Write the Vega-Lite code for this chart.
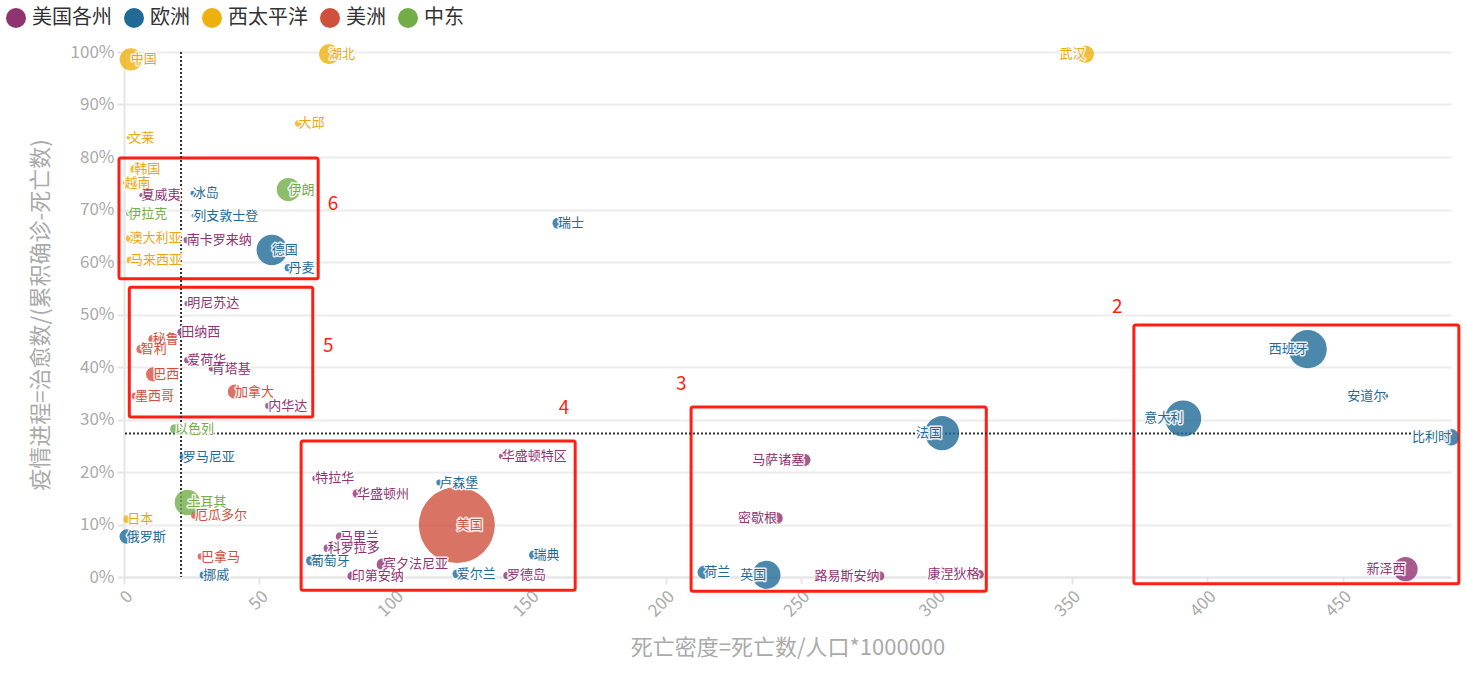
{
  "$schema": "https://vega.github.io/schema/vega-lite/v6.json",
  "width": 1327,
  "height": 525,
  "autosize": {"type": "none"},
  "padding": {"left": 124, "top": 52, "right": 15, "bottom": 102},
  "background": "white",
  "config": {
    "font": "Noto Sans CJK SC",
    "view": {"stroke": null},
    "axis": {
      "labelFont": "Noto Sans CJK SC",
      "titleFont": "Noto Sans CJK SC",
      "labelColor": "#aaaaaa",
      "labelFontSize": 17,
      "titleColor": "#aaaaaa",
      "titleFontSize": 22,
      "titleFontWeight": "normal",
      "domainColor": "#e6e6e6",
      "domainWidth": 2,
      "tickColor": "#e6e6e6",
      "tickWidth": 2,
      "tickSize": 7,
      "gridColor": "#ececec",
      "gridWidth": 2
    }
  },
  "datasets": {
    "pts": [
      {"name": "夏威夷", "region": "美国各州", "deathDensity": 6.5, "progress": 0.727, "confirmed": 1500},
      {"name": "南卡罗来纳", "region": "美国各州", "deathDensity": 23.2, "progress": 0.642, "confirmed": 5000},
      {"name": "明尼苏达", "region": "美国各州", "deathDensity": 23.4, "progress": 0.521, "confirmed": 3500},
      {"name": "田纳西", "region": "美国各州", "deathDensity": 21.1, "progress": 0.466, "confirmed": 8000},
      {"name": "爱荷华", "region": "美国各州", "deathDensity": 23.4, "progress": 0.413, "confirmed": 5000},
      {"name": "肯塔基", "region": "美国各州", "deathDensity": 32.4, "progress": 0.397, "confirmed": 4000},
      {"name": "内华达", "region": "美国各州", "deathDensity": 53.3, "progress": 0.326, "confirmed": 5000},
      {"name": "特拉华", "region": "美国各州", "deathDensity": 70.6, "progress": 0.188, "confirmed": 3500},
      {"name": "华盛顿州", "region": "美国各州", "deathDensity": 86.0, "progress": 0.159, "confirmed": 11000},
      {"name": "马里兰", "region": "美国各州", "deathDensity": 79.8, "progress": 0.077, "confirmed": 11000},
      {"name": "科罗拉多", "region": "美国各州", "deathDensity": 75.2, "progress": 0.055, "confirmed": 9000},
      {"name": "宾夕法尼亚", "region": "美国各州", "deathDensity": 95.6, "progress": 0.024, "confirmed": 25000},
      {"name": "印第安纳", "region": "美国各州", "deathDensity": 84.1, "progress": 0.002, "confirmed": 11000},
      {"name": "罗德岛", "region": "美国各州", "deathDensity": 141.4, "progress": 0.003, "confirmed": 7000},
      {"name": "华盛顿特区", "region": "美国各州", "deathDensity": 139.5, "progress": 0.23, "confirmed": 3500},
      {"name": "马萨诸塞", "region": "美国各州", "deathDensity": 251.2, "progress": 0.223, "confirmed": 25000},
      {"name": "密歇根", "region": "美国各州", "deathDensity": 241.1, "progress": 0.112, "confirmed": 22000},
      {"name": "路易斯安纳", "region": "美国各州", "deathDensity": 279.0, "progress": 0.002, "confirmed": 14000},
      {"name": "康涅狄格", "region": "美国各州", "deathDensity": 315.9, "progress": 0.005, "confirmed": 11000},
      {"name": "新泽西", "region": "美国各州", "deathDensity": 473.2, "progress": 0.015, "confirmed": 100000},
      {"name": "冰岛", "region": "欧洲", "deathDensity": 25.4, "progress": 0.731, "confirmed": 1800},
      {"name": "列支敦士登", "region": "欧洲", "deathDensity": 25.6, "progress": 0.688, "confirmed": 300},
      {"name": "德国", "region": "欧洲", "deathDensity": 54.6, "progress": 0.623, "confirmed": 160000},
      {"name": "丹麦", "region": "欧洲", "deathDensity": 60.7, "progress": 0.589, "confirmed": 8000},
      {"name": "罗马尼亚", "region": "欧洲", "deathDensity": 21.7, "progress": 0.229, "confirmed": 5000},
      {"name": "俄罗斯", "region": "欧洲", "deathDensity": 1.0, "progress": 0.077, "confirmed": 34000},
      {"name": "挪威", "region": "欧洲", "deathDensity": 29.3, "progress": 0.004, "confirmed": 7500},
      {"name": "葡萄牙", "region": "欧洲", "deathDensity": 69.0, "progress": 0.031, "confirmed": 14000},
      {"name": "卢森堡", "region": "欧洲", "deathDensity": 116.4, "progress": 0.18, "confirmed": 3700},
      {"name": "爱尔兰", "region": "欧洲", "deathDensity": 122.9, "progress": 0.006, "confirmed": 11000},
      {"name": "瑞典", "region": "欧洲", "deathDensity": 151.2, "progress": 0.042, "confirmed": 12000},
      {"name": "瑞士", "region": "欧洲", "deathDensity": 160.3, "progress": 0.674, "confirmed": 20000},
      {"name": "法国", "region": "欧洲", "deathDensity": 302.1, "progress": 0.274, "confirmed": 200000},
      {"name": "荷兰", "region": "欧洲", "deathDensity": 214.3, "progress": 0.009, "confirmed": 30000},
      {"name": "英国", "region": "欧洲", "deathDensity": 237.2, "progress": 0.004, "confirmed": 136000},
      {"name": "西班牙", "region": "欧洲", "deathDensity": 437.1, "progress": 0.434, "confirmed": 250000},
      {"name": "安道尔", "region": "欧洲", "deathDensity": 466.1, "progress": 0.345, "confirmed": 740},
      {"name": "意大利", "region": "欧洲", "deathDensity": 391.1, "progress": 0.302, "confirmed": 224000},
      {"name": "比利时", "region": "欧洲", "deathDensity": 490.0, "progress": 0.266, "confirmed": 45000},
      {"name": "中国", "region": "西太平洋", "deathDensity": 2.5, "progress": 0.986, "confirmed": 84000},
      {"name": "湖北", "region": "西太平洋", "deathDensity": 75.7, "progress": 0.996, "confirmed": 68000},
      {"name": "武汉", "region": "西太平洋", "deathDensity": 355.0, "progress": 0.996, "confirmed": 50000},
      {"name": "大邱", "region": "西太平洋", "deathDensity": 64.4, "progress": 0.864, "confirmed": 6000},
      {"name": "文莱", "region": "西太平洋", "deathDensity": 1.6, "progress": 0.837, "confirmed": 300},
      {"name": "韩国", "region": "西太平洋", "deathDensity": 3.8, "progress": 0.777, "confirmed": 9000},
      {"name": "越南", "region": "西太平洋", "deathDensity": 0.2, "progress": 0.751, "confirmed": 300},
      {"name": "澳大利亚", "region": "西太平洋", "deathDensity": 2.0, "progress": 0.645, "confirmed": 6700},
      {"name": "马来西亚", "region": "西太平洋", "deathDensity": 2.2, "progress": 0.604, "confirmed": 5800},
      {"name": "日本", "region": "西太平洋", "deathDensity": 1.2, "progress": 0.11, "confirmed": 8500},
      {"name": "秘鲁", "region": "美洲", "deathDensity": 10.6, "progress": 0.453, "confirmed": 11000},
      {"name": "智利", "region": "美洲", "deathDensity": 6.2, "progress": 0.434, "confirmed": 11000},
      {"name": "巴西", "region": "美洲", "deathDensity": 10.8, "progress": 0.386, "confirmed": 34000},
      {"name": "墨西哥", "region": "美洲", "deathDensity": 4.1, "progress": 0.345, "confirmed": 6000},
      {"name": "加拿大", "region": "美洲", "deathDensity": 41.0, "progress": 0.353, "confirmed": 34000},
      {"name": "厄瓜多尔", "region": "美洲", "deathDensity": 26.2, "progress": 0.118, "confirmed": 8500},
      {"name": "巴拿马", "region": "美洲", "deathDensity": 28.4, "progress": 0.039, "confirmed": 5500},
      {"name": "美国", "region": "美洲", "deathDensity": 122.9, "progress": 0.099, "confirmed": 1000000},
      {"name": "伊朗", "region": "中东", "deathDensity": 60.7, "progress": 0.738, "confirmed": 92000},
      {"name": "伊拉克", "region": "中东", "deathDensity": 1.6, "progress": 0.692, "confirmed": 1800},
      {"name": "以色列", "region": "中东", "deathDensity": 18.8, "progress": 0.282, "confirmed": 14000},
      {"name": "土耳其", "region": "中东", "deathDensity": 23.4, "progress": 0.142, "confirmed": 110000}
    ],
    "boxes": [
      {"x1": -1.85, "x2": 71.7, "y1": 0.798, "y2": 0.568},
      {"x1": 1.96, "x2": 69.7, "y1": 0.552, "y2": 0.305},
      {"x1": 65.4, "x2": 166.6, "y1": 0.259, "y2": -0.025},
      {"x1": 209.4, "x2": 318.4, "y1": 0.324, "y2": -0.027},
      {"x1": 372.9, "x2": 492.9, "y1": 0.48, "y2": -0.013}
    ],
    "nums": [
      {"label": "6", "x": 77.2, "y": 0.71},
      {"label": "5", "x": 75.4, "y": 0.44},
      {"label": "4", "x": 162.5, "y": 0.322},
      {"label": "3", "x": 205.8, "y": 0.368},
      {"label": "2", "x": 366.8, "y": 0.514}
    ],
    "vref": [{"deathDensity": 21.06}],
    "href": [{"progress": 0.2733}]
  },
  "layer": [
    {
      "data": {"name": "boxes"},
      "mark": {"type": "rect", "fillOpacity": 0, "stroke": "#ff1f12", "strokeWidth": 3, "cornerRadius": 2},
      "encoding": {
        "x": {"field": "x1", "type": "quantitative", "scale": {"domain": [0, 490], "nice": false}, "title": "死亡密度=死亡数/人口*1000000"},
        "x2": {"field": "x2"},
        "y": {"field": "y1", "type": "quantitative", "scale": {"domain": [0, 1], "nice": false}, "title": "疫情进程=治愈数/(累积确诊-死亡数)"},
        "y2": {"field": "y2"}
      }
    },
    {
      "data": {"name": "vref"},
      "mark": {"type": "rule", "color": "#333333", "strokeWidth": 2, "strokeDash": [2, 2]},
      "encoding": {
        "x": {"field": "deathDensity", "type": "quantitative", "scale": {"domain": [0, 490], "nice": false}, "title": "死亡密度=死亡数/人口*1000000"}
      }
    },
    {
      "data": {"name": "href"},
      "mark": {"type": "rule", "color": "#333333", "strokeWidth": 2, "strokeDash": [2, 2]},
      "encoding": {
        "y": {"field": "progress", "type": "quantitative", "scale": {"domain": [0, 1], "nice": false}, "title": "疫情进程=治愈数/(累积确诊-死亡数)"}
      }
    },
    {
      "data": {"name": "pts"},
      "mark": {"type": "point", "filled": true, "opacity": 0.8},
      "encoding": {
        "x": {
          "field": "deathDensity", "type": "quantitative",
          "scale": {"domain": [0, 490], "nice": false},
          "title": "死亡密度=死亡数/人口*1000000",
          "axis": {"values": [0, 50, 100, 150, 200, 250, 300, 350, 400, 450], "grid": false, "labelAngle": -45, "labelPadding": 4, "titlePadding": 18}
        },
        "y": {
          "field": "progress", "type": "quantitative",
          "scale": {"domain": [0, 1], "nice": false},
          "title": "疫情进程=治愈数/(累积确诊-死亡数)",
          "axis": {"values": [0, 0.1, 0.2, 0.3, 0.4, 0.5, 0.6, 0.7, 0.8, 0.9, 1], "format": ".0%", "grid": true, "labelPadding": 3, "titlePadding": 18}
        },
        "color": {
          "field": "region", "type": "nominal",
          "scale": {"domain": ["美国各州", "欧洲", "西太平洋", "美洲", "中东"], "range": ["#8f3371", "#1f6a96", "#eeb00e", "#cf503d", "#72ad47"]},
          "legend": {
            "title": null, "orient": "none", "legendX": -118, "legendY": -44, "direction": "horizontal",
            "symbolType": "circle", "symbolSize": 400, "symbolOpacity": 1, "symbolStrokeWidth": 0,
            "labelFontSize": 20, "labelColor": "#333333", "labelFont": "Noto Sans CJK SC",
            "labelOffset": 6, "columnPadding": 12
          }
        },
        "size": {
          "field": "confirmed", "type": "quantitative",
          "scale": {"domain": [0, 1000000], "range": [12, 5776]},
          "legend": null
        }
      }
    },
    {
      "data": {"name": "pts"},
      "transform": [{"filter": "datum.deathDensity < 225"}],
      "mark": {"type": "text", "align": "left", "baseline": "middle", "fontSize": 13, "stroke": "white", "strokeWidth": 3, "strokeJoin": "round", "fill": "white", "strokeOpacity": 0.85},
      "encoding": {
        "x": {"field": "deathDensity", "type": "quantitative", "scale": {"domain": [0, 490], "nice": false}, "title": "死亡密度=死亡数/人口*1000000"},
        "y": {"field": "progress", "type": "quantitative", "scale": {"domain": [0, 1], "nice": false}, "title": "疫情进程=治愈数/(累积确诊-死亡数)"},
        "text": {"field": "name"}
      }
    },
    {
      "data": {"name": "pts"},
      "transform": [{"filter": "datum.deathDensity >= 225"}],
      "mark": {"type": "text", "align": "right", "baseline": "middle", "fontSize": 13, "stroke": "white", "strokeWidth": 3, "strokeJoin": "round", "fill": "white", "strokeOpacity": 0.85},
      "encoding": {
        "x": {"field": "deathDensity", "type": "quantitative", "scale": {"domain": [0, 490], "nice": false}, "title": "死亡密度=死亡数/人口*1000000"},
        "y": {"field": "progress", "type": "quantitative", "scale": {"domain": [0, 1], "nice": false}, "title": "疫情进程=治愈数/(累积确诊-死亡数)"},
        "text": {"field": "name"}
      }
    },
    {
      "data": {"name": "pts"},
      "transform": [{"filter": "datum.deathDensity < 225"}],
      "mark": {"type": "text", "align": "left", "baseline": "middle", "fontSize": 13},
      "encoding": {
        "x": {"field": "deathDensity", "type": "quantitative", "scale": {"domain": [0, 490], "nice": false}, "title": "死亡密度=死亡数/人口*1000000"},
        "y": {"field": "progress", "type": "quantitative", "scale": {"domain": [0, 1], "nice": false}, "title": "疫情进程=治愈数/(累积确诊-死亡数)"},
        "text": {"field": "name"},
        "fill": {
          "field": "region", "type": "nominal",
          "scale": {"domain": ["美国各州", "欧洲", "西太平洋", "美洲", "中东"], "range": ["#8f3371", "#1f6a96", "#eea512", "#cf503d", "#72ad47"]},
          "legend": null
        }
      }
    },
    {
      "data": {"name": "pts"},
      "transform": [{"filter": "datum.deathDensity >= 225"}],
      "mark": {"type": "text", "align": "right", "baseline": "middle", "fontSize": 13},
      "encoding": {
        "x": {"field": "deathDensity", "type": "quantitative", "scale": {"domain": [0, 490], "nice": false}, "title": "死亡密度=死亡数/人口*1000000"},
        "y": {"field": "progress", "type": "quantitative", "scale": {"domain": [0, 1], "nice": false}, "title": "疫情进程=治愈数/(累积确诊-死亡数)"},
        "text": {"field": "name"},
        "fill": {
          "field": "region", "type": "nominal",
          "scale": {"domain": ["美国各州", "欧洲", "西太平洋", "美洲", "中东"], "range": ["#8f3371", "#1f6a96", "#eea512", "#cf503d", "#72ad47"]},
          "legend": null
        }
      }
    },
    {
      "data": {"name": "nums"},
      "mark": {"type": "text", "align": "center", "baseline": "middle", "fontSize": 19, "color": "#ff1f12"},
      "encoding": {
        "x": {"field": "x", "type": "quantitative", "scale": {"domain": [0, 490], "nice": false}, "title": "死亡密度=死亡数/人口*1000000"},
        "y": {"field": "y", "type": "quantitative", "scale": {"domain": [0, 1], "nice": false}, "title": "疫情进程=治愈数/(累积确诊-死亡数)"},
        "text": {"field": "label"}
      }
    }
  ]
}
